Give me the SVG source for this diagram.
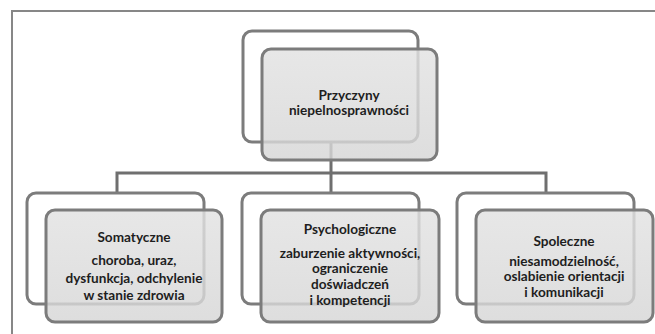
<svg xmlns="http://www.w3.org/2000/svg" width="655" height="334" viewBox="0 0 655 334">
<defs>
<linearGradient id="gf" x1="0" y1="0" x2="0" y2="1">
<stop offset="0" stop-color="#e2e2e2"/>
<stop offset="1" stop-color="#d6d6d6"/>
</linearGradient>
</defs>
<style>
.frame{fill:none;stroke:#878787;stroke-width:2}
.back{fill:#ffffff;stroke:#7c7c7c;stroke-width:3}
.front{fill:url(#gf);fill-opacity:0.82;stroke:#7c7c7c;stroke-width:3}
.conn{fill:none;stroke:#6f6f6f;stroke-width:3}
text{font-family:Lato,"Open Sans","Liberation Sans",sans-serif;font-size:13.6px;font-weight:bold;fill:#1e1e1e;text-anchor:middle}
</style>
<rect width="655" height="334" fill="#ffffff"/>
<path class="frame" d="M12 334 V11 H655"/>
<g id="connectors">
<path class="conn" d="M331 142 V193"/>
<path class="conn" d="M117 193 V173 H546 V193"/>
</g>
<g id="root">
<rect class="back" x="243" y="31" width="175" height="111" rx="9"/>
<rect class="front" x="262" y="49" width="175" height="111" rx="9"/>
<text x="349" y="100">Przyczyny</text>
<text x="349" y="115">niepelnosprawności</text>
</g>
<g id="somatyczne">
<rect class="back" x="27" y="193" width="177" height="111" rx="9"/>
<rect class="front" x="46" y="210" width="176" height="112" rx="9"/>
<text x="134" y="242">Somatyczne</text>
<text x="134" y="265">choroba, uraz,</text>
<text x="134" y="283">dysfunkcja, odchylenie</text>
<text x="134" y="300">w stanie zdrowia</text>
</g>
<g id="psychologiczne">
<rect class="back" x="242" y="193" width="177" height="111" rx="9"/>
<rect class="front" x="261" y="210" width="178" height="112" rx="9"/>
<text x="350" y="234">Psychologiczne</text>
<text x="350" y="258">zaburzenie aktywności,</text>
<text x="350" y="273">ograniczenie</text>
<text x="350" y="289">doświadczeń</text>
<text x="350" y="305">i kompetencji</text>
</g>
<g id="spoleczne">
<rect class="back" x="457" y="193" width="177" height="111" rx="9"/>
<rect class="front" x="476" y="210" width="177" height="112" rx="9"/>
<text x="564" y="246">Spoleczne</text>
<text x="564" y="266">niesamodzielność,</text>
<text x="564" y="281">oslabienie orientacji</text>
<text x="564" y="297">i komunikacji</text>
</g>
</svg>
